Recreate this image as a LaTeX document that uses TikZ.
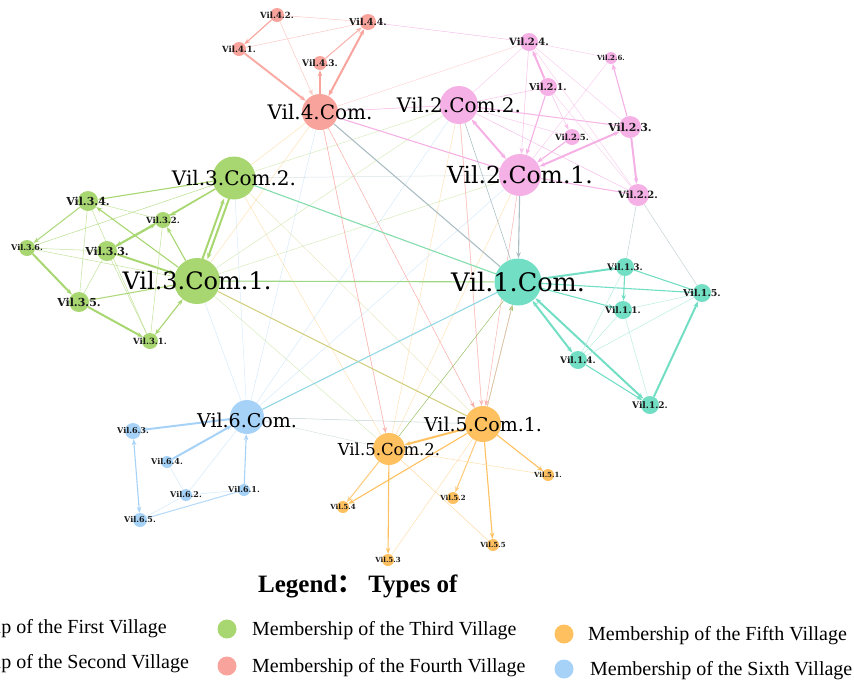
\documentclass[tikz,border=0pt]{standalone}
\usepackage{fontspec}
\setmainfont{Liberation Serif}
\newfontfamily\lblfont{DejaVu Serif}
\newfontfamily\cjkfont{Noto Sans CJK SC}
\usetikzlibrary{arrows.meta}
\definecolor{greenc}{RGB}{168,214,112}
\definecolor{redc}{RGB}{248,163,155}
\definecolor{pinkc}{RGB}{245,176,229}
\definecolor{tealc}{RGB}{114,222,196}
\definecolor{orangec}{RGB}{255,192,96}
\definecolor{bluec}{RGB}{166,210,248}
\definecolor{olivec}{RGB}{210,205,120}
\definecolor{greyedge}{RGB}{170,190,195}
\pgfdeclarelayer{bg}
\pgfsetlayers{bg,main}
\tikzset{
  vn/.style={circle,inner sep=0pt,draw=none,minimum size=#1},
  lbl/.style={inner sep=0pt,text=black,font=\lblfont\fontsize{#1}{#1}\selectfont},
  slbl/.style={inner sep=0pt,text=black!90,font=\lblfont\bfseries\fontsize{#1}{#1}\selectfont},
  tip/.style={-{Stealth[length=6pt,width=4.5pt]}},
  tipboth/.style={{Stealth[length=6pt,width=4.5pt]}-{Stealth[length=6pt,width=4.5pt]}},
  ew/.style={line width=0.5pt},
  em/.style={line width=1.1pt},
  es/.style={line width=2pt},
  faint/.style={line width=0.5pt,draw opacity=0.45},
  legc/.style={circle,inner sep=0pt,minimum size=19pt,draw=none},
  legt/.style={anchor=base west,inner sep=0pt,font=\fontsize{20}{20}\selectfont},
}
\begin{document}
\begin{tikzpicture}[x=1pt,y=-1pt]
\useasboundingbox (0,0) rectangle (854,681);
\clip (0,0) rectangle (854,681);
% ---------- nodes ----------
% red
\node[vn=36pt,fill=redc] (c4) at (320,112) {};
\node[vn=14pt,fill=redc] (r42) at (277,15) {};
\node[vn=16pt,fill=redc] (r44) at (368,22) {};
\node[vn=14pt,fill=redc] (r41) at (239,49) {};
\node[vn=14pt,fill=redc] (r43) at (320,63) {};
% pink
\node[vn=38pt,fill=pinkc] (c22) at (459,105) {};
\node[vn=42pt,fill=pinkc] (c21) at (520,175) {};
\node[vn=18pt,fill=pinkc] (p24) at (529,42) {};
\node[vn=18pt,fill=pinkc] (p21) at (548,87) {};
\node[vn=12pt,fill=pinkc] (p26) at (611,58) {};
\node[vn=22pt,fill=pinkc] (p23) at (630,127) {};
\node[vn=16pt,fill=pinkc] (p25) at (572,137) {};
\node[vn=22pt,fill=pinkc] (p22) at (638,195) {};
% green
\node[vn=43pt,fill=greenc] (c32) at (234,178) {};
\node[vn=46pt,fill=greenc] (c31) at (197,281) {};
\node[vn=20pt,fill=greenc] (g34) at (88,201) {};
\node[vn=16pt,fill=greenc] (g32) at (163,220) {};
\node[vn=16pt,fill=greenc] (g36) at (27,248) {};
\node[vn=20pt,fill=greenc] (g33) at (107,251) {};
\node[vn=20pt,fill=greenc] (g35) at (79,302) {};
\node[vn=16pt,fill=greenc] (g31) at (150,341) {};
% teal
\node[vn=47pt,fill=tealc] (c1) at (518,282) {};
\node[vn=18pt,fill=tealc] (t13) at (625,267) {};
\node[vn=18pt,fill=tealc] (t15) at (702,293) {};
\node[vn=18pt,fill=tealc] (t11) at (623,310) {};
\node[vn=18pt,fill=tealc] (t14) at (578,360) {};
\node[vn=18pt,fill=tealc] (t12) at (650,405) {};
% blue
\node[vn=34pt,fill=bluec] (c6) at (247,417) {};
\node[vn=16pt,fill=bluec] (b63) at (133,431) {};
\node[vn=12pt,fill=bluec] (b64) at (167,462) {};
\node[vn=12pt,fill=bluec] (b62) at (186,495) {};
\node[vn=12pt,fill=bluec] (b61) at (244,490) {};
\node[vn=14pt,fill=bluec] (b65) at (140,520) {};
% orange
\node[vn=36pt,fill=orangec] (c51) at (483,424) {};
\node[vn=32pt,fill=orangec] (c52) at (389,449) {};
\node[vn=12pt,fill=orangec] (o51) at (548,475) {};
\node[vn=12pt,fill=orangec] (o52) at (453,498) {};
\node[vn=12pt,fill=orangec] (o54) at (343,507) {};
\node[vn=12pt,fill=orangec] (o55) at (493,545) {};
\node[vn=12pt,fill=orangec] (o53) at (388,560) {};
% ---------- edges ----------
\begin{pgfonlayer}{bg}
% faint inter-community lines
\draw[faint,orangec] (c4) -- (c32);
\draw[faint,orangec] (c4) -- (c31);
\draw[faint,bluec] (c4) -- (c6);
\draw[faint,redc] (c4) -- (c52);
\draw[faint,greenc] (c22) -- (c32);
\draw[faint,greenc] (c22) -- (c31);
\draw[faint,bluec] (c22) -- (c6);
\draw[faint,orangec] (c22) -- (c52);
\draw[faint,redc] (c22) -- (c51);
\draw[faint,greenc] (c21) -- (c31);
\draw[faint,greyedge] (c21) -- (c32);
\draw[faint,bluec] (c21) -- (c6);
\draw[faint,orangec] (c21) -- (c52);
\draw[ew,redc!80,tip] (c21) -- (c51);
\draw[faint,orangec] (c32) -- (c52);
\draw[faint,olivec] (c32) -- (c51);
\draw[faint,bluec] (c32) -- (c6);
\draw[faint,greenc] (c31) -- (c52);
\draw[faint,bluec] (c31) -- (c6);
\draw[faint,greyedge] (c6) -- (c52);
\draw[ew,greyedge,draw opacity=0.7] (c6) -- (c51);
\draw[faint,olivec] (c31) -- (g31);
\draw[faint,redc] (c4) -- (p24);
% red
\draw[em,redc,tip] (r42) -- (r41);
\draw[ew,redc!60] (r42) -- (r44);
\draw[ew,redc!60,tip] (r42) -- (c4);
\draw[ew,redc!60] (r41) -- (r44);
\draw[es,redc!90,tip] (r41) -- (c4);
\draw[es,redc,tip] (c4) -- (r43);
\draw[em,redc!80,tip] (r43) -- (r44);
\draw[es,redc,tipboth] (c4) -- (r44);
\draw[ew,pinkc!80] (r44) -- (p24);
\draw[ew,pinkc] (c4) -- (c22);
\draw[em,pinkc] (c4) -- (c21);
\draw[em,greyedge] (c4) -- (c1);
\draw[ew,redc!90,tip] (c4) -- (c51);
\draw[ew,redc!80,tip] (c4) -- (c52);
\draw[ew,redc!70,tip] (c22) -- (c51);
% pink
\draw[es,pinkc,tipboth] (c22) -- (c21);
\draw[ew,pinkc!80] (c22) -- (p21);
\draw[em,pinkc!90] (c22) -- (p23);
\draw[ew,pinkc!80] (c22) -- (p22);
\draw[ew,pinkc!70] (c22) -- (p25);
\draw[ew,pinkc!60] (c22) -- (p24);
\draw[es,pinkc,tip] (p21) -- (p24);
\draw[em,pinkc,tip] (p21) -- (c21);
\draw[ew,pinkc!80,tip] (p21) -- (p25);
\draw[ew,pinkc!60] (p21) -- (p22);
\draw[ew,pinkc!80,tip] (p24) -- (c21);
\draw[ew,pinkc!60] (p24) -- (p22);
\draw[ew,pinkc!60] (p24) -- (p23);
\draw[ew,pinkc!60] (p24) -- (p26);
\draw[ew,pinkc!60] (p26) -- (c21);
\draw[em,pinkc,tip] (p23) -- (p26);
\draw[es,pinkc,tip] (p23) -- (p22);
\draw[es,pinkc,tipboth] (p23) -- (c21);
\draw[em,pinkc,tip] (p25) -- (c21);
\draw[em,pinkc!90] (p22) -- (c21);
\draw[ew,greyedge!70] (p22) -- (t13);
\draw[ew,greyedge!70] (p22) -- (t15);
\draw[em,greyedge,tip] (c21) -- (c1);
\draw[ew,greyedge] (c22) -- (c1);
% green
\draw[em,greenc,tip] (c32) -- (g34);
\draw[em,greenc,tip] (c32) -- (g32);
\draw[es,greenc,tip,transform canvas={xshift=-2.5pt}] (c31) -- (c32);
\draw[es,greenc,tip,transform canvas={xshift=2.5pt}] (c32) -- (c31);
\draw[ew,greenc!80] (c32) -- (g36);
\draw[em,greenc,tip] (c32) -- (g33);
\draw[em,greenc!90,tip] (g34) -- (g36);
\draw[ew,greenc!70] (g34) -- (g35);
\draw[em,greenc,tip] (c31) -- (g34);
\draw[ew,greenc!70] (g34) -- (g31);
\draw[ew,greenc!70] (g34) -- (g32);
\draw[es,greenc,tip] (g36) -- (g35);
\draw[ew,greenc!70] (g36) -- (g33);
\draw[ew,greenc!70] (g36) -- (c31);
\draw[es,greenc,tip] (g33) -- (g32);
\draw[es,greenc,tip] (g33) -- (c31);
\draw[ew,greenc!70] (g33) -- (g35);
\draw[ew,greenc!70] (g33) -- (g31);
\draw[es,greenc,tip] (g35) -- (g31);
\draw[em,greenc!90] (g35) -- (c31);
\draw[em,greenc,tipboth] (g31) -- (c31);
\draw[ew,greenc!70] (g32) -- (g31);
\draw[em,greenc,tip] (c31) -- (g32);
\draw[em,greenc!80!tealc] (c31) -- (c1);
\draw[em,tealc!70!greenc] (c32) -- (c1);
\draw[em,olivec] (c31) -- (c51);
% teal
\draw[es,tealc,tip] (c1) -- (t13);
\draw[em,tealc] (c1) -- (t15);
\draw[em,tealc,tip] (c1) -- (t11);
\draw[es,tealc,tipboth] (c1) -- (t14);
\draw[es,tealc,tipboth] (c1) -- (t12);
\draw[em,tealc,tip] (t13) -- (t11);
\draw[em,tealc] (t13) -- (t15);
\draw[ew,tealc!50] (t13) -- (t14);
\draw[ew,tealc!50] (t11) -- (t15);
\draw[ew,tealc!50] (t11) -- (t14);
\draw[ew,tealc!50] (t11) -- (t12);
\draw[ew,tealc!50] (t14) -- (t15);
\draw[em,tealc,tip] (t14) -- (t12);
\draw[es,tealc,tip] (t12) -- (t15);
\draw[em,bluec!60!tealc] (c6) -- (c1);
\draw[ew,greenc!90!black] (c52) -- (c1);
\draw[ew,greenc!90!black,tip] (c51) -- (c1);
\draw[ew,redc!70] (c51) -- (c1);
% blue
\draw[es,bluec,tip] (c6) -- (b63);
\draw[es,bluec,tip] (b64) -- (c6);
\draw[em,bluec,tip] (b61) -- (c6);
\draw[em,bluec,tipboth] (b63) -- (b65);
\draw[em,bluec!80] (b65) -- (b61);
\draw[ew,bluec!50] (b65) -- (b62);
\draw[ew,bluec!50] (b62) -- (b61);
\draw[ew,bluec!50] (b62) -- (b64);
\draw[ew,bluec!50] (b62) -- (c6);
% orange
\draw[es,orangec,tip] (c51) -- (c52);
\draw[em,orangec,tip] (c51) -- (o51);
\draw[em,orangec!80,tip] (c51) -- (o52);
\draw[em,orangec,tip] (c51) -- (o55);
\draw[em,orangec,tip] (c51) -- (o54);
\draw[ew,orangec!50] (c51) -- (o53);
\draw[em,orangec,tip] (c52) -- (o53);
\draw[em,orangec!80,tip] (c52) -- (o54);
\draw[ew,orangec!60] (c52) -- (o55);
\draw[ew,orangec!50] (c52) -- (o51);
\end{pgfonlayer}
% ---------- labels ----------
\node[lbl=20] at (c4) {Vil.4.Com.};
\node[slbl=8.5] at (r42) {Vil.4.2.};
\node[slbl=9.5] at (r44) {Vil.4.4.};
\node[slbl=8.5] at (r41) {Vil.4.1.};
\node[slbl=9] at (r43) {Vil.4.3.};
\node[lbl=20] at (c22) {Vil.2.Com.2.};
\node[lbl=23.5] at (c21) {Vil.2.Com.1.};
\node[slbl=10] at (p24) {Vil.2.4.};
\node[slbl=9.5] at (p21) {Vil.2.1.};
\node[slbl=7] at (p26) {Vil.2.6.};
\node[slbl=11] at (p23) {Vil.2.3.};
\node[slbl=8.5] at (p25) {Vil.2.5.};
\node[slbl=10] at (p22) {Vil.2.2.};
\node[lbl=20] at (c32) {Vil.3.Com.2.};
\node[lbl=24] at (c31) {Vil.3.Com.1.};
\node[slbl=11] at (g34) {Vil.3.4.};
\node[slbl=8.5] at (g32) {Vil.3.2.};
\node[slbl=8] at (g36) {Vil.3.6.};
\node[slbl=11] at (g33) {Vil.3.3.};
\node[slbl=11] at (g35) {Vil.3.5.};
\node[slbl=8.5] at (g31) {Vil.3.1.};
\node[lbl=25.5] at (c1) {Vil.1.Com.};
\node[slbl=9] at (t13) {Vil.1.3.};
\node[slbl=9.5] at (t15) {Vil.1.5.};
\node[slbl=9] at (t11) {Vil.1.1.};
\node[slbl=9] at (t14) {Vil.1.4.};
\node[slbl=9] at (t12) {Vil.1.2.};
\node[lbl=19] at ([yshift=-3pt]c6) {Vil.6.Com.};
\node[slbl=8] at (b63) {Vil.6.3.};
\node[slbl=8] at (b64) {Vil.6.4.};
\node[slbl=8] at (b62) {Vil.6.2.};
\node[slbl=8] at (b61) {Vil.6.1.};
\node[slbl=8] at (b65) {Vil.6.5.};
\node[lbl=19] at (c51) {Vil.5.Com.1.};
\node[lbl=16.5] at (c52) {Vil.5.Com.2.};
\node[slbl=7] at (o51) {Vil.5.1.};
\node[slbl=7] at (o52) {Vil.5.2};
\node[slbl=7] at (o54) {Vil.5.4};
\node[slbl=7] at (o55) {Vil.5.5};
\node[slbl=7] at (o53) {Vil.5.3};
% ---------- legend ----------
\node[anchor=base west,inner sep=0pt,font=\bfseries\fontsize{25}{25}\selectfont] (legtitle) at (258,592) {Legend{\cjkfont\bfseries ：}\hspace{6pt}Types of};
\node[legt] (l1) at (-90,633) {Membership of the First Village};
\node[legt] (l2) at (-90,668) {Membership of the Second Village};
\node[legc,fill=greenc] (lg3) at (227,629) {};
\node[legt] (l3) at (252,635) {Membership of the Third Village};
\node[legc,fill=redc] (lg4) at (227,666) {};
\node[legt] (l4) at (252,672) {Membership of the Fourth Village};
\node[legc,fill=orangec] (lg5) at (564,634) {};
\node[legt] (l5) at (588,640) {Membership of the Fifth Village};
\node[legc,fill=bluec] (lg6) at (564,669) {};
\node[legt] (l6) at (590,675) {Membership of the Sixth Village};
\end{tikzpicture}
\end{document}
